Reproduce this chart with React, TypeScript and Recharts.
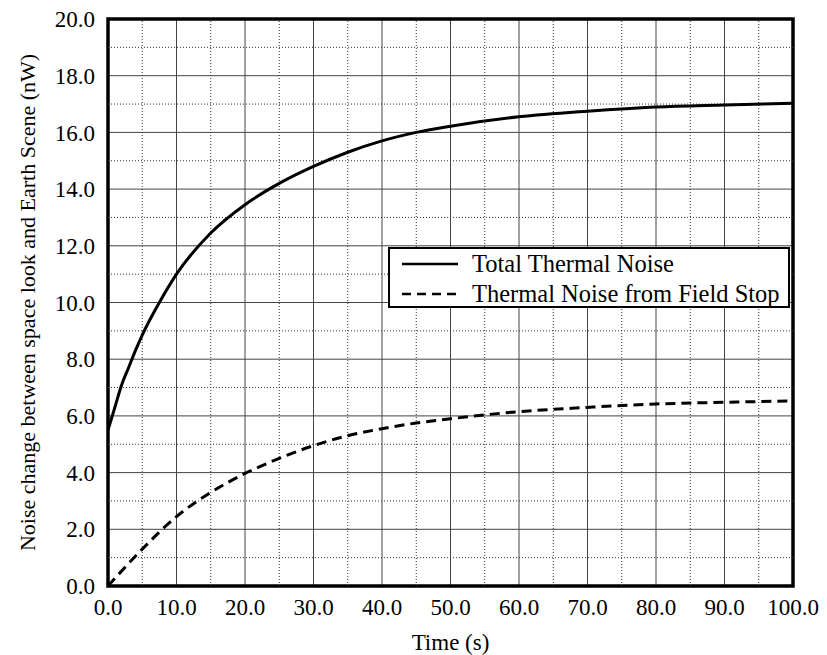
import React from "react";
import {
  LineChart,
  Line,
  XAxis,
  YAxis,
  CartesianGrid,
  ReferenceLine,
  ReferenceArea,
  Legend,
} from "recharts";

// sample times (s) and noise change (nW) for each curve
const totalTimes = [0, 1, 2, 3, 4, 5, 7.5, 10, 15, 20, 25, 30, 35, 40, 45, 50, 60, 70, 80, 90, 100];
const totalNoise = [5.5, 6.3, 7.1, 7.7, 8.3, 8.85, 10.0, 11.0, 12.45, 13.45, 14.2, 14.8, 15.3, 15.7, 16.0, 16.22, 16.55, 16.75, 16.9, 16.97, 17.03];

const fieldStopTimes = [0, 5, 10, 15, 20, 25, 30, 35, 40, 45, 50, 60, 70, 80, 90, 100];
const fieldStopNoise = [0, 1.3, 2.45, 3.3, 3.97, 4.5, 4.95, 5.3, 5.55, 5.75, 5.9, 6.15, 6.3, 6.42, 6.48, 6.53];

const xTicks = [0, 10, 20, 30, 40, 50, 60, 70, 80, 90, 100];
const yTicks = [0, 2, 4, 6, 8, 10, 12, 14, 16, 18, 20];
const xMinor = [5, 15, 25, 35, 45, 55, 65, 75, 85, 95];
const yMinor = [1, 3, 5, 7, 9, 11, 13, 15, 17, 19];

const SERIES_NAMES = ["Total Thermal Noise", "Thermal Noise from Field Stop"];

const FONT = "'Liberation Serif', 'Times New Roman', serif";

const totalData = totalTimes.map((t, i) => ({ t, v: totalNoise[i] }));
const fieldStopData = fieldStopTimes.map((t, i) => ({ t, v: fieldStopNoise[i] }));

const NoiseLegend = () => (
  <div
    style={{
      border: "2px solid #000",
      background: "#fff",
      width: 398,
      height: 57,
      boxSizing: "content-box",
      fontFamily: FONT,
      fontSize: 24.5,
      color: "#000",
    }}
  >
    {SERIES_NAMES.map((name, i) => (
      <div key={name} style={{ display: "flex", alignItems: "center", height: 29, marginTop: i === 0 ? 0 : 1 }}>
        <svg width={70} height={10} style={{ marginLeft: 12 }}>
          <line
            x1={0}
            y1={5}
            x2={56}
            y2={5}
            stroke="#000"
            strokeWidth={2.5}
            strokeDasharray={i === 0 ? undefined : "9 6"}
          />
        </svg>
        <span style={{ marginLeft: 0, lineHeight: "29px", whiteSpace: "nowrap" }}>{name}</span>
      </div>
    ))}
  </div>
);

export default function App() {
  return (
    <div style={{ position: "absolute", left: 0, top: 0, background: "#fff" }}>
      <LineChart
        width={827}
        height={655}
        margin={{ top: 19, right: 34, left: 8, bottom: 29 }}
        style={{ fontFamily: FONT }}
      >
        <CartesianGrid stroke="#444" strokeWidth={1} />
        {xMinor.map((x) => (
          <ReferenceLine key={`xm-${x}`} x={x} stroke="#333" strokeDasharray="1 2" />
        ))}
        {yMinor.map((y) => (
          <ReferenceLine key={`ym-${y}`} y={y} stroke="#333" strokeDasharray="1 2" />
        ))}
        <XAxis
          dataKey="t"
          type="number"
          domain={[0, 100]}
          ticks={xTicks}
          allowDuplicatedCategory={false}
          tickFormatter={(v: number) => v.toFixed(1)}
          tick={{ fill: "#000", fontSize: 23, fontFamily: FONT }}
          tickLine={false}
          axisLine={false}
          tickMargin={7}
          height={40}
          label={{
            value: "Time (s)",
            position: "bottom",
            offset: 8,
            fill: "#000",
            fontSize: 23,
            fontFamily: FONT,
          }}
        />
        <YAxis
          type="number"
          domain={[0, 20]}
          ticks={yTicks}
          tickFormatter={(v: number) => v.toFixed(1)}
          tick={{ fill: "#000", fontSize: 23, fontFamily: FONT }}
          tickLine={false}
          axisLine={false}
          tickMargin={7}
          width={100}
          label={{
            value: "Noise change between space look and Earth Scene (nW)",
            angle: -90,
            position: "insideLeft",
            offset: 19,
            fill: "#000",
            fontSize: 22,
            fontFamily: FONT,
            style: { textAnchor: "middle", fontSize: 22, fontFamily: FONT },
          }}
        />
        <ReferenceArea x1={0} x2={100} y1={0} y2={20} fill="none" stroke="#000" strokeWidth={3.5} />
        <Line
          data={totalData}
          dataKey="v"
          name={SERIES_NAMES[0]}
          type="monotone"
          stroke="#000"
          strokeWidth={3}
          dot={false}
          isAnimationActive={false}
        />
        <Line
          data={fieldStopData}
          dataKey="v"
          name={SERIES_NAMES[1]}
          type="monotone"
          stroke="#000"
          strokeWidth={3}
          strokeDasharray="10 6"
          dot={false}
          isAnimationActive={false}
        />
        <Legend
          layout="vertical"
          align="center"
          verticalAlign="middle"
          content={() => <NoiseLegend />}
          wrapperStyle={{ position: "absolute", left: 388, top: 247, width: 402 }}
        />
      </LineChart>
    </div>
  );
}
